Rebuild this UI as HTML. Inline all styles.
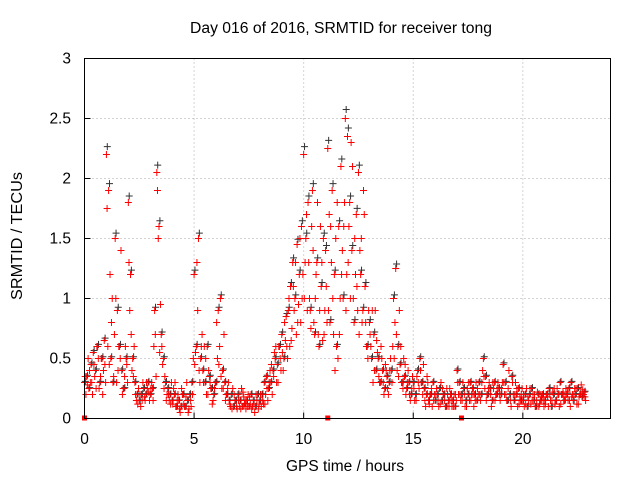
<!DOCTYPE html>
<html><head><meta charset="utf-8"><style>
body{margin:0;background:#fff;}
svg text{font-family:"Liberation Sans",sans-serif;font-size:15.5px;fill:#000;}
</style></head><body>
<svg id="chart" width="640" height="480" xmlns="http://www.w3.org/2000/svg">
<text x="341" y="33" text-anchor="middle" textLength="302" lengthAdjust="spacingAndGlyphs">Day 016 of 2016, SRMTID for receiver tong</text>
<text transform="translate(22,236) rotate(-90)" text-anchor="middle" textLength="128" lengthAdjust="spacingAndGlyphs">SRMTID / TECUs</text>
<text x="345" y="471" text-anchor="middle">GPS time / hours</text>
<g id="grid"></g>
<g id="ticks"></g>
<g id="marks"></g>
<rect x="84.5" y="58.5" width="526" height="360" fill="none" stroke="#000" stroke-width="1"/>
</svg>
<script>
const xTicks=[0,5,10,15,20];
const yTicks=[0,0.5,1,1.5,2,2.5,3];
const yTickLabels=["0","0.5","1","1.5","2","2.5","3"];
const START=0, STEP=0.1;
const v1=[0.3,0.35,0.25,0.45,0.55,0.4,0.6,0.3,0.5,0.65,
2.2,1.9,0.5,0.3,1.5,0.9,0.6,0.4,0.25,0.5,
1.8,1.2,0.5,0.3,0.2,0.15,0.2,0.25,0.2,0.3,
0.2,0.25,0.9,2.05,1.6,0.7,0.5,0.3,0.25,0.2,
0.15,0.2,0.1,0.15,0.1,0.2,0.1,0.15,0.2,0.3,
1.2,0.6,1.5,0.5,0.4,0.3,0.6,0.35,0.25,0.2,
0.3,0.9,1.0,0.4,0.3,0.2,0.15,0.2,0.1,0.15,
0.2,0.15,0.1,0.12,0.15,0.1,0.2,0.15,0.1,0.2,
0.15,0.2,0.3,0.35,0.25,0.3,0.4,0.5,0.45,0.6,
0.7,0.5,0.85,0.9,1.1,1.3,1.0,1.45,1.2,1.6,
2.2,1.5,1.8,0.9,1.9,0.7,1.3,0.6,1.1,1.5,
1.4,2.25,0.8,1.9,1.2,0.6,1.6,2.1,1.0,2.5,
2.35,1.8,1.4,0.8,1.7,2.05,1.2,0.9,1.1,0.6,
0.8,0.5,0.7,0.4,0.5,0.3,0.4,0.25,0.35,0.3,
0.4,1.0,1.25,0.6,0.45,0.3,0.35,0.25,0.3,0.2,
0.3,0.2,0.4,0.5,0.3,0.25,0.2,0.15,0.2,0.3,
0.15,0.2,0.25,0.15,0.2,0.1,0.15,0.2,0.15,0.1,
0.4,0.3,0.2,0.25,0.15,0.2,0.3,0.25,0.2,0.15,
0.3,0.2,0.5,0.35,0.2,0.25,0.15,0.3,0.2,0.25,
0.2,0.45,0.3,0.15,0.2,0.35,0.15,0.2,0.25,0.15,
0.15,0.2,0.1,0.2,0.25,0.15,0.1,0.2,0.15,0.2,
0.15,0.2,0.25,0.1,0.2,0.15,0.2,0.3,0.2,0.15,
0.2,0.25,0.3,0.15,0.2,0.25,0.2,0.18,0.22];
const v2=[0.2,0.5,0.3,0.2,0.35,0.6,0.25,0.5,0.4,0.3,
0.6,1.2,1.0,0.7,0.3,0.6,1.4,0.25,0.6,0.3,
0.9,0.4,0.6,0.15,0.25,0.1,0.3,0.15,0.25,0.15,
0.3,0.6,0.35,1.5,0.95,0.45,0.35,0.2,0.15,0.3,
0.25,0.1,0.2,0.05,0.2,0.1,0.3,0.08,0.1,0.5,
0.55,0.9,0.3,0.7,0.6,0.2,0.4,0.25,0.15,0.3,
0.5,0.6,0.25,0.7,0.2,0.3,0.1,0.25,0.15,0.08,
0.1,0.25,0.18,0.08,0.2,0.12,0.1,0.05,0.15,0.12,
0.1,0.12,0.2,0.15,0.4,0.2,0.55,0.3,0.6,0.4,
0.4,0.65,0.5,0.6,0.75,0.9,0.7,0.95,0.8,1.2,
1.3,0.9,1.0,1.6,0.8,1.2,0.7,1.6,0.65,0.9,
0.8,1.7,1.3,0.7,1.5,0.5,1.0,1.4,1.8,1.2,
1.6,2.3,1.0,1.2,0.9,1.4,0.8,1.7,0.6,0.9,
0.6,0.3,0.9,0.55,0.3,0.5,0.2,0.4,0.2,0.5,
0.6,0.8,0.4,0.9,0.3,0.5,0.2,0.4,0.15,0.35,
0.15,0.35,0.25,0.3,0.45,0.1,0.3,0.2,0.1,0.2,
0.25,0.1,0.3,0.2,0.1,0.2,0.25,0.1,0.2,0.15,
0.2,0.15,0.3,0.1,0.25,0.15,0.2,0.1,0.3,0.2,
0.15,0.4,0.25,0.2,0.3,0.1,0.25,0.2,0.3,0.15,
0.3,0.2,0.15,0.4,0.1,0.2,0.3,0.1,0.18,0.25,
0.1,0.25,0.15,0.12,0.2,0.1,0.22,0.12,0.18,0.1,
0.2,0.1,0.15,0.22,0.12,0.25,0.1,0.2,0.15,0.25,
0.15,0.1,0.2,0.25,0.12,0.18,0.28,0.2,0.15];
const v3=[0.35,0.28,0.4,0.3,0.45,0.25,0.5,0.35,0.2,0.45,
1.75,0.45,0.8,0.35,1.0,0.4,0.5,0.2,0.35,0.45,
1.3,0.7,0.35,0.2,0.12,0.2,0.15,0.18,0.3,0.22,
0.25,0.15,0.7,1.9,0.55,0.6,0.25,0.15,0.2,0.12,
0.12,0.3,0.15,0.08,0.25,0.12,0.18,0.05,0.15,0.2,
0.45,1.3,0.4,0.6,0.3,0.5,0.2,0.3,0.12,0.25,
0.8,0.45,0.35,0.25,0.15,0.25,0.12,0.08,0.2,0.1,
0.15,0.08,0.22,0.15,0.1,0.18,0.08,0.12,0.2,0.08,
0.2,0.15,0.12,0.25,0.3,0.45,0.35,0.6,0.3,0.5,
0.55,0.8,0.6,1.0,0.65,1.1,1.3,0.8,1.5,1.0,
1.0,1.7,1.3,0.75,1.4,1.0,1.8,0.9,1.3,0.7,
1.1,0.9,1.6,1.0,0.4,1.8,0.7,1.2,1.6,0.9,
1.3,1.0,2.1,1.5,1.1,0.7,1.5,1.9,0.8,0.5,
0.7,0.9,0.4,0.65,0.35,0.6,0.3,0.45,0.25,0.4,
0.3,0.5,0.7,0.35,0.6,0.25,0.45,0.3,0.2,0.25,
0.25,0.15,0.3,0.4,0.2,0.15,0.35,0.12,0.25,0.15,
0.2,0.15,0.12,0.25,0.15,0.25,0.1,0.15,0.1,0.2,
0.3,0.2,0.15,0.2,0.1,0.3,0.15,0.2,0.15,0.25,
0.2,0.3,0.35,0.15,0.25,0.2,0.3,0.15,0.25,0.2,
0.25,0.3,0.2,0.25,0.15,0.3,0.2,0.25,0.12,0.2,
0.2,0.12,0.18,0.25,0.15,0.2,0.15,0.1,0.2,0.15,
0.12,0.18,0.2,0.15,0.25,0.15,0.2,0.12,0.22,0.18,
0.22,0.15,0.18,0.2,0.25,0.12,0.2,0.24,0.18];
const gapTimes=[0,11.1,17.2];

const NS="http://www.w3.org/2000/svg";
const X0=84.5,X1=610.5,Y0=418.5,Y1=58.5,XMAX=24,YMAX=3;
const xs=t=>X0+(X1-X0)*t/XMAX;
const ys=v=>Y0-(Y0-Y1)*v/YMAX;
function mk(tag,attrs,parent){const e=document.createElementNS(NS,tag);for(const k in attrs)e.setAttribute(k,attrs[k]);parent.appendChild(e);return e;}
const grid=document.getElementById('grid'),ticks=document.getElementById('ticks'),marks=document.getElementById('marks');
xTicks.forEach(t=>{
  const x=xs(t);
  if(t>0){const g=mk('line',{x1:x,x2:x,y1:Y1,y2:Y0,stroke:'#aaa','stroke-dasharray':'1,3'},grid);
  
  }
  const l=mk('line',{x1:x,x2:x,y1:Y0,y2:Y0-6,stroke:'#000'},ticks);
  
  
  const tx=mk('text',{x:x,y:444,'text-anchor':'middle'},ticks);tx.textContent=String(t);
  
  
});
yTicks.forEach((v,i)=>{
  const y=ys(v);
  if(v>0&&v<YMAX){const g=mk('line',{x1:X0,x2:X1,y1:y,y2:y,stroke:'#aaa','stroke-dasharray':'1,3'},grid);
  
  }
  const l=mk('line',{x1:X0,x2:X0+6,y1:y,y2:y,stroke:'#000'},ticks);
  
  
  const tx=mk('text',{x:71,y:y+5,'text-anchor':'end'},ticks);tx.textContent=yTickLabels[i];
  
  
});
function cross(t,v,color,name){
  const x=xs(t),y=ys(v);
  const p=mk('path',{d:`M${x-3.5},${y}H${x+3.5}M${x},${y-3.5}V${y+3.5}`,stroke:color,'stroke-width':1,fill:'none'},marks);
  
  
}
v1.forEach((v,i)=>cross(START+i*STEP+0.04,v*1.03,'#333','black-point'));
v1.forEach((v,i)=>cross(START+i*STEP,v,'#f00','red-point'));
v3.forEach((v,i)=>cross(START+i*STEP+0.03,v,'#f00','red-point'));
v2.forEach((v,i)=>cross(START+i*STEP+0.065,v,'#f00','red-point'));
gapTimes.forEach(t=>{
  const r=mk('rect',{x:xs(t)-2.5,y:Y0-3,width:5,height:5,fill:'#f00'},marks);
  
  
});
</script>
</body></html>
